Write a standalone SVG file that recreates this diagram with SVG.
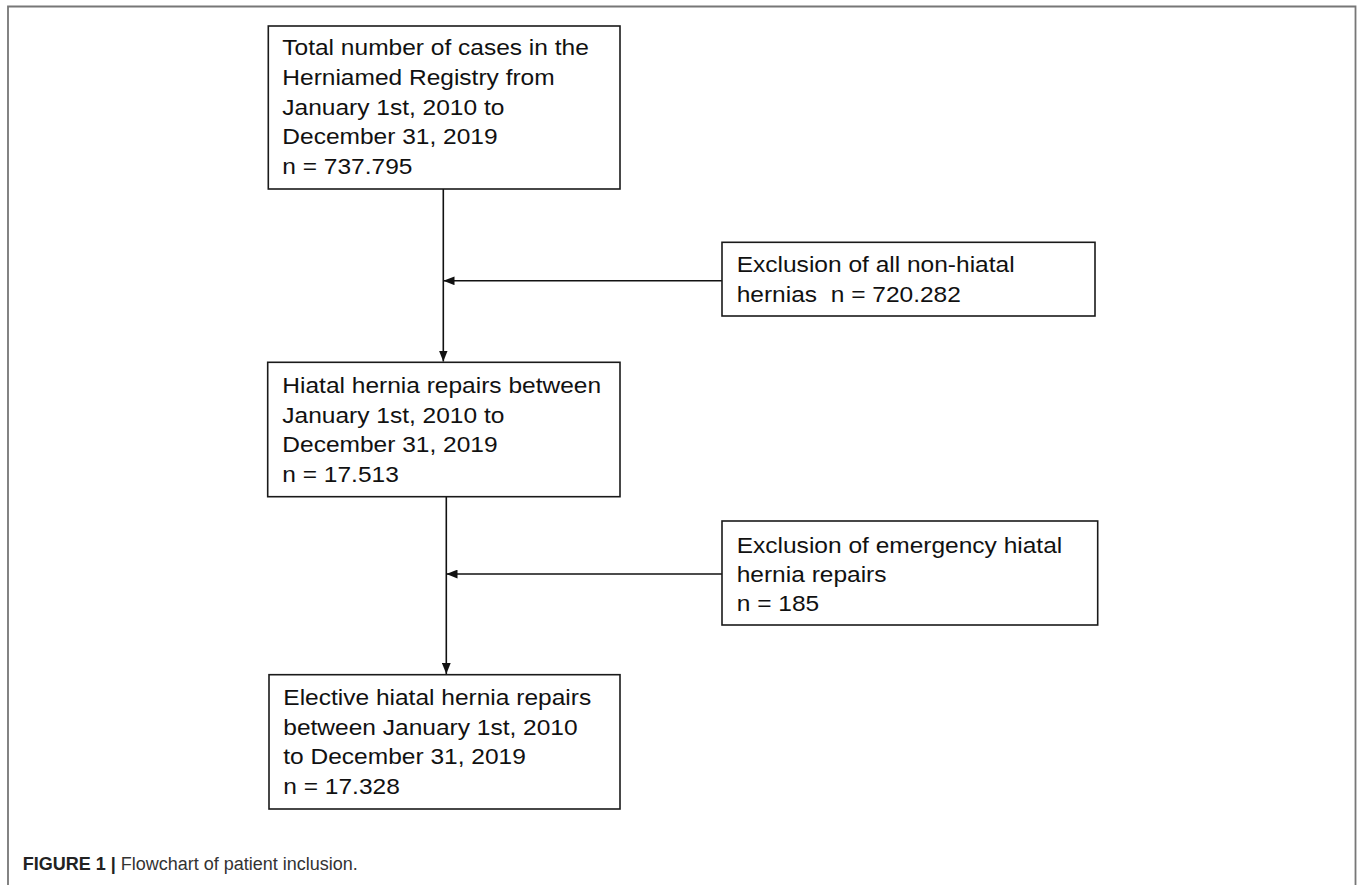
<svg xmlns="http://www.w3.org/2000/svg" width="1357" height="885" viewBox="0 0 1357 885">
<defs>
<style>
.box{fill:#fff;stroke:#1a1a1a;stroke-width:1.6}
.t{font-family:"Liberation Sans",Arial,sans-serif;font-size:22.5px;fill:#111}
.conn{stroke:#111;stroke-width:1.6;fill:none}
.frame{stroke:#777;stroke-width:1.8;fill:none}
.cap{font-family:"Liberation Sans",Arial,sans-serif;font-size:18px;fill:#333}
</style>
<marker id="ah" viewBox="0 0 10 8" refX="10" refY="4" markerWidth="11" markerHeight="9" markerUnits="userSpaceOnUse" orient="auto">
<path d="M0,0 L10,4 L0,8 z" fill="#111"/>
</marker>
</defs>
<rect width="1357" height="885" fill="#fff"/>
<path class="frame" d="M8,885 V6.5 H1355.5 V885"/>

<g id="connectors">
<path class="conn" d="M443.3,189 V361.5" marker-end="url(#ah)"/>
<path class="conn" d="M722,280.8 H443.5" marker-end="url(#ah)"/>
<path class="conn" d="M446.3,497 V674" marker-end="url(#ah)"/>
<path class="conn" d="M722,574 H446.5" marker-end="url(#ah)"/>
</g>

<g id="node-total">
<rect class="box" x="268.3" y="26" width="351.7" height="163"/>
<text class="t" transform="translate(282.3,55) scale(1.09,1)">
<tspan x="0" y="0">Total number of cases in the</tspan>
<tspan x="0" y="29.8">Herniamed Registry from</tspan>
<tspan x="0" y="59.6">January 1st, 2010 to</tspan>
<tspan x="0" y="89.4">December 31, 2019</tspan>
<tspan x="0" y="119.2">n = 737.795</tspan>
</text>
</g>

<g id="node-excl1">
<rect class="box" x="722" y="242.3" width="373" height="73.7"/>
<text class="t" transform="translate(736.7,272) scale(1.09,1)">
<tspan x="0" y="0">Exclusion of all non-hiatal</tspan>
<tspan x="0" y="30.5">hernias&#160; n = 720.282</tspan>
</text>
</g>

<g id="node-hiatal">
<rect class="box" x="267.7" y="362.3" width="352.3" height="134.4"/>
<text class="t" transform="translate(282.3,393) scale(1.09,1)">
<tspan x="0" y="0">Hiatal hernia repairs between</tspan>
<tspan x="0" y="29.7">January 1st, 2010 to</tspan>
<tspan x="0" y="59.4">December 31, 2019</tspan>
<tspan x="0" y="89.1">n = 17.513</tspan>
</text>
</g>

<g id="node-excl2">
<rect class="box" x="722" y="521" width="375.7" height="104"/>
<text class="t" transform="translate(736.7,552.5) scale(1.09,1)">
<tspan x="0" y="0">Exclusion of emergency hiatal</tspan>
<tspan x="0" y="29.5">hernia repairs</tspan>
<tspan x="0" y="59">n = 185</tspan>
</text>
</g>

<g id="node-elective">
<rect class="box" x="269" y="674.7" width="351" height="134.3"/>
<text class="t" transform="translate(283.3,705) scale(1.09,1)">
<tspan x="0" y="0">Elective hiatal hernia repairs</tspan>
<tspan x="0" y="29.7">between January 1st, 2010</tspan>
<tspan x="0" y="59.4">to December 31, 2019</tspan>
<tspan x="0" y="89.1">n = 17.328</tspan>
</text>
</g>

<text class="cap" x="22.7" y="870"><tspan font-weight="bold" fill="#222">FIGURE 1 |</tspan> Flowchart of patient inclusion.</text>
</svg>
